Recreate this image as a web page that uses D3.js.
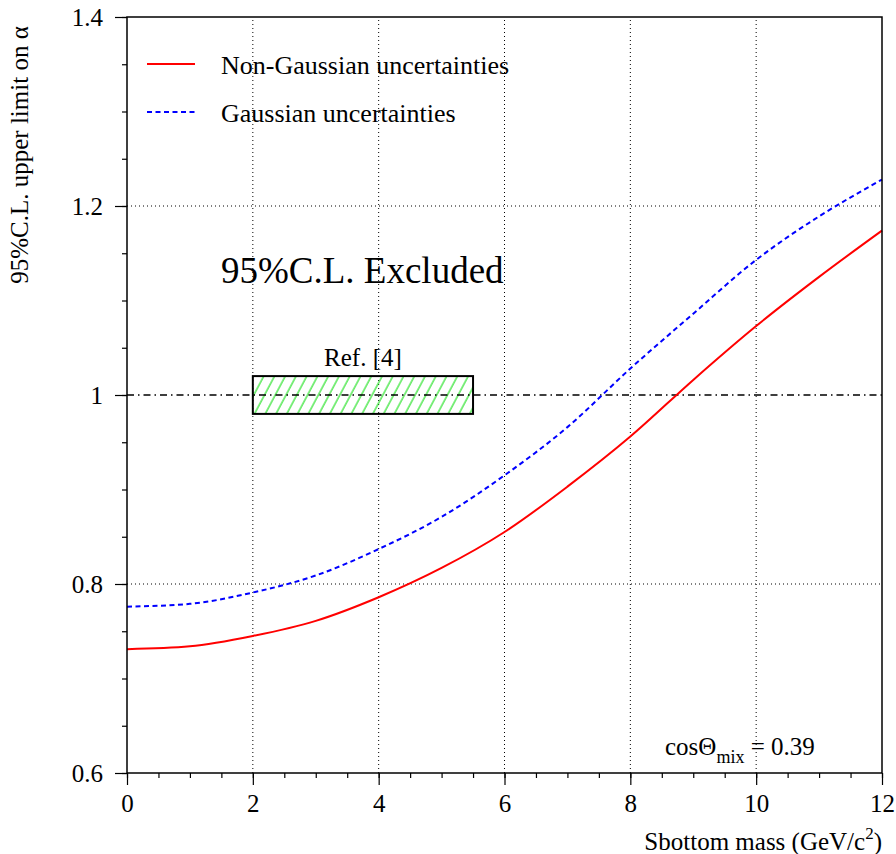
<!DOCTYPE html>
<html>
<head>
<meta charset="utf-8">
<script src="https://cdn.jsdelivr.net/npm/d3@7"></script>
<style>
  html, body { margin: 0; padding: 0; background: #fff; }
  svg { display: block; }
  svg text { font-family: "Liberation Serif", "Times New Roman", serif !important; fill: #000; }
</style>
</head>
<body>
<div id="chart"></div>
<script>
// Sbottom mass grid (GeV/c^2)
const massPoints = [0, 1, 2, 3, 4, 5, 6, 7, 8, 9, 10, 11, 12];
// 95% C.L. upper limit on alpha, non-Gaussian treatment of uncertainties
const nonGaussianLimit = [0.731, 0.734, 0.745, 0.761, 0.786, 0.817, 0.855, 0.903, 0.956, 1.016, 1.073, 1.125, 1.174];
// 95% C.L. upper limit on alpha, Gaussian treatment of uncertainties
const gaussianLimit = [0.776, 0.779, 0.791, 0.809, 0.837, 0.871, 0.915, 0.966, 1.028, 1.086, 1.143, 1.189, 1.228];
// Region covered by the earlier result
const refBand = { x0: 2, x1: 5.5, y0: 0.98, y1: 1.02 };
const xTicks = [0, 2, 4, 6, 8, 10, 12];
const yTicks = [0.6, 0.8, 1, 1.2, 1.4];
const xGrid = [2, 4, 6, 8, 10];
const yGrid = [0.8, 1.2];

const W = 896, H = 854;
const m = { left: 127, right: 14, top: 17, bottom: 81 };
const FS = 25;

const svg = d3.select("#chart").append("svg")
  .attr("width", W).attr("height", H);

const x = d3.scaleLinear().domain([0, 12]).range([m.left, W - m.right]);
const y = d3.scaleLinear().domain([0.6, 1.4]).range([H - m.bottom, m.top]);

// hatch pattern for the reference band
const defs = svg.append("defs");
const pat = defs.append("pattern")
  .attr("id", "hatch")
  .attr("patternUnits", "userSpaceOnUse")
  .attr("width", 9.5).attr("height", 20)
  .attr("patternTransform", "rotate(28)");
pat.append("line")
  .attr("x1", 1).attr("x2", 1).attr("y1", 0).attr("y2", 20)
  .attr("stroke", "#00dd00").attr("stroke-width", 1);

// grid
const grid = svg.append("g");
grid.selectAll("line.gx").data(xGrid).join("line")
  .attr("x1", d => x(d)).attr("x2", d => x(d))
  .attr("y1", y(0.6)).attr("y2", y(1.4))
  .attr("stroke", "#000").attr("stroke-width", 1).attr("stroke-dasharray", "1,3");
grid.selectAll("line.gy").data(yGrid).join("line")
  .attr("x1", x(0)).attr("x2", x(12))
  .attr("y1", d => y(d)).attr("y2", d => y(d))
  .attr("stroke", "#000").attr("stroke-width", 1).attr("stroke-dasharray", "1,3");

// reference band
svg.append("rect")
  .attr("x", x(refBand.x0)).attr("y", y(refBand.y1))
  .attr("width", x(refBand.x1) - x(refBand.x0))
  .attr("height", y(refBand.y0) - y(refBand.y1))
  .attr("fill", "url(#hatch)")
  .attr("stroke", "#000").attr("stroke-width", 2);

// alpha = 1 line
svg.append("line")
  .attr("x1", x(0)).attr("x2", x(12))
  .attr("y1", y(1)).attr("y2", y(1))
  .attr("stroke", "#000").attr("stroke-width", 1.5)
  .attr("stroke-dasharray", "7,4,1.5,4");

svg.append("text")
  .attr("x", (x(refBand.x0) + x(refBand.x1)) / 2).attr("y", y(refBand.y1) - 10)
  .attr("text-anchor", "middle").style("font-size", FS + "px")
  .text("Ref. [4]");

// curves
const line = d3.line()
  .x((d, i) => x(massPoints[i]))
  .y(d => y(d))
  .curve(d3.curveMonotoneX);

svg.append("path").datum(gaussianLimit)
  .attr("d", line).attr("fill", "none")
  .attr("stroke", "#0000ff").attr("stroke-width", 2)
  .attr("stroke-dasharray", "5,3.5");
svg.append("path").datum(nonGaussianLimit)
  .attr("d", line).attr("fill", "none")
  .attr("stroke", "#ff0000").attr("stroke-width", 2);

// frame
svg.append("rect")
  .attr("x", x(0)).attr("y", y(1.4))
  .attr("width", x(12) - x(0)).attr("height", y(0.6) - y(1.4))
  .attr("fill", "none").attr("stroke", "#000").attr("stroke-width", 1.5);

// y axis
const yAxis = svg.append("g").attr("transform", `translate(${x(0)},0)`);
yAxis.call(d3.axisLeft(y).tickValues(d3.range(0.6, 1.4001, 0.05)).tickSize(5).tickFormat(""))
  .call(g => g.select(".domain").remove());
yAxis.append("g").call(d3.axisLeft(y).tickValues(yTicks).tickSize(12).tickPadding(12).tickFormat(d => String(+d.toFixed(1))))
  .call(g => g.select(".domain").remove());
yAxis.selectAll("line").attr("stroke", "#000").attr("stroke-width", 1.2);

// x axis
const xAxis = svg.append("g").attr("transform", `translate(0,${y(0.6)})`);
xAxis.call(d3.axisBottom(x).tickValues(d3.range(0, 12.001, 0.5)).tickSize(5).tickFormat(""))
  .call(g => g.select(".domain").remove());
xAxis.append("g").call(d3.axisBottom(x).tickValues(xTicks).tickSize(12).tickPadding(9))
  .call(g => g.select(".domain").remove());
xAxis.selectAll("line").attr("stroke", "#000").attr("stroke-width", 1.2);

svg.selectAll(".tick text").style("font-size", FS + "px").attr("fill", "#000");

// axis titles
svg.append("text")
  .attr("transform", `translate(28,155) rotate(-90)`)
  .attr("text-anchor", "middle").style("font-size", FS + "px")
  .text("95%C.L. upper limit on α");

const xt = svg.append("text")
  .attr("x", x(12)).attr("y", 850)
  .attr("text-anchor", "end").style("font-size", FS + "px");
xt.append("tspan").text("Sbottom mass (GeV/c");
xt.append("tspan").style("font-size", "17px").attr("dy", -11).text("2");
xt.append("tspan").attr("dy", 11).text(")");

// legend
const legend = [
  { label: "Non-Gaussian uncertainties", color: "#ff0000", dash: null, yy: 64 },
  { label: "Gaussian uncertainties", color: "#0000ff", dash: "5,3.5", yy: 112 }
];
legend.forEach(l => {
  svg.append("line")
    .attr("x1", 147).attr("x2", 195).attr("y1", l.yy).attr("y2", l.yy)
    .attr("stroke", l.color).attr("stroke-width", 2)
    .attr("stroke-dasharray", l.dash);
  svg.append("text")
    .attr("x", 221).attr("y", l.yy + 10).style("font-size", "26px")
    .text(l.label);
});

// annotations
svg.append("text")
  .attr("x", 221).attr("y", 283).style("font-size", "37px")
  .text("95%C.L. Excluded");

const cs = svg.append("text")
  .attr("x", 665).attr("y", 755).style("font-size", FS + "px");
cs.append("tspan").text("cosΘ");
cs.append("tspan").style("font-size", "18px").attr("dy", 8).text("mix");
cs.append("tspan").attr("dy", -8).text(" = 0.39");
</script>
</body>
</html>
